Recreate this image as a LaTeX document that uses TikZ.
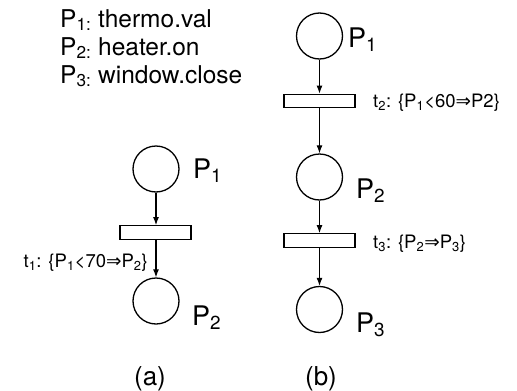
\documentclass[tikz,border=0pt]{standalone}
\usepackage{fontspec}
\setmainfont{TeX Gyre Heros}
\newfontfamily\symf{DejaVu Sans}
\usetikzlibrary{arrows.meta}
\newcommand{\imp}{{\symf ⇒}}
\tikzset{
  place/.style={circle,draw,line width=1.3pt,minimum size=46pt,inner sep=0pt},
  trans/.style={rectangle,draw,line width=1.3pt,minimum width=71pt,minimum height=13.5pt,inner sep=0pt},
  arc/.style={line width=1.2pt,-{Latex[length=8pt,width=6pt]}},
  lab/.style={inner sep=0pt,font=\fontsize{27}{29}\selectfont},
  leg/.style={inner sep=0pt,anchor=base west,font=\fontsize{24.5}{26}\selectfont},
  tlab/.style={inner sep=0pt,font=\fontsize{18.5}{20}\selectfont},
  captext/.style={inner sep=0pt,anchor=base,font=\fontsize{26}{28}\selectfont}
}
\begin{document}
\begin{tikzpicture}[x=1pt,y=-1pt]
\useasboundingbox (0,0) rectangle (517,391);
% legend
\node[leg] (l1) at (60,27) {P\textsubscript{1:} thermo.val};
\node[leg] (l2) at (60,55) {P\textsubscript{2:} heater.on};
\node[leg] (l3) at (60,83) {P\textsubscript{3:} window.close};
% (a)
\node[place] (aP1) at (156,169) {};
\node[trans] (at1) at (155.5,232.5) {};
\node[place] (aP2) at (156,301) {};
\node[lab,anchor=base west] (aP1l) at (193,178) {P\textsubscript{1}};
\node[lab,anchor=base west] (aP2l) at (192,325) {P\textsubscript{2}};
\node[tlab,anchor=base east] (at1l) at (148,267) {t\textsubscript{1}: \{P\textsubscript{1}<70\imp P\textsubscript{2}\}};
\draw[arc] (aP1.south) -- (aP1.south |- at1.north);
\draw[arc] (aP2.north |- at1.south) -- (aP2.north);
\node[captext] (ca) at (150,385) {(a)};
% (b)
\node[place] (bP1) at (319.5,36) {};
\node[trans] (bt2) at (319.5,101) {};
\node[place] (bP2) at (319.5,177) {};
\node[trans] (bt3) at (319.5,240.5) {};
\node[place] (bP3) at (319.5,309.5) {};
\node[lab,anchor=base west] (bP1l) at (348,47) {P\textsubscript{1}};
\node[lab,anchor=base west] (bP2l) at (356,198) {P\textsubscript{2}};
\node[lab,anchor=base west] (bP3l) at (356,332) {P\textsubscript{3}};
\node[tlab,anchor=base west] (bt2l) at (373,107) {t\textsubscript{2}: \{P\textsubscript{1}<60\imp P2\}};
\node[tlab,anchor=base west] (bt3l) at (373,248) {t\textsubscript{3}: \{P\textsubscript{2}\imp P\textsubscript{3}\}};
\draw[arc] (bP1.south) -- (bt2.north);
\draw[arc] (bt2.south) -- (bP2.north);
\draw[arc] (bP2.south) -- (bt3.north);
\draw[arc] (bt3.south) -- (bP3.north);
\node[captext] (cb) at (321,385) {(b)};
\end{tikzpicture}
\end{document}
